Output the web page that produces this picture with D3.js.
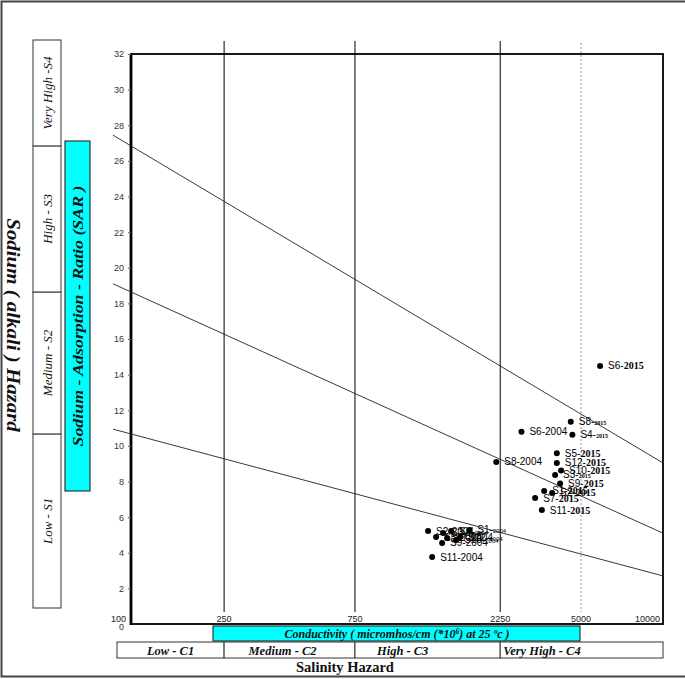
<!DOCTYPE html>
<html>
<head>
<meta charset="utf-8">
<script src="https://cdn.jsdelivr.net/npm/d3@7"></script>
<style>
  html, body { margin: 0; padding: 0; background: #fff; }
</style>
</head>
<body>
<div id="chart"></div>
<script>
///////////////////////////////////////////////////////////////////////////
// Datos
///////////////////////////////////////////////////////////////////////////
const samples = ["S1","S2","S3","S4","S5","S6","S7","S8","S9","S10","S11","S12"];

// conductividad (micromhos/cm) y SAR por año
const ec2004  = [1930, 1505, 1660, 1743, 1588, 2973, 1702, 2209, 1650, 1795, 1547, 1836];
const sar2004 = [5.28, 5.22, 5.11, 5.22, 4.88, 10.8, 4.83, 9.10, 4.55, 4.72, 3.76, 4.88];
const ec2015  = [3744, 4015, 4117, 4705, 4175, 6159, 3438, 4650, 4287, 4321, 3666, 4175];
const sar2015 = [7.47, 7.36, 8.37, 10.63, 9.58, 14.49, 7.07, 11.36, 7.89, 8.62, 6.40, 9.04];

// etiquetas de ejes
const ecTicks = [100, 250, 750, 2250, 5000, 10000];
const sarTicks = [0, 2, 4, 6, 8, 10, 12, 14, 16, 18, 20, 22, 24, 26, 28, 30, 32];

// líneas de separación S1/S2, S2/S3, S3/S4 (SAR en EC=100 y EC=10000)
const hazardLines = [
  { left: 10.67, right: 2.7 },
  { left: 18.64, right: 5.1 },
  { left: 26.84, right: 9.04 }
];

const sodiumClasses = ["Low - S1", "Medium - S2", "High - S3", "Very High -S4"];
const salinityClasses = ["Low - C1", "Medium - C2", "High - C3", "Very High - C4"];

// años con el número pequeño en la etiqueta
const tinyYear = ["S8-2015", "S4-2015", "S3-2015", "S1-2004", "S3-2004", "S4-2004", "S10-2004", "S12-2004"];

const points = [];
samples.forEach((s, i) => {
  points.push({ name: s, year: "2004", ec: ec2004[i], sar: sar2004[i] });
  points.push({ name: s, year: "2015", ec: ec2015[i], sar: sar2015[i] });
});

///////////////////////////////////////////////////////////////////////////
// SVG
///////////////////////////////////////////////////////////////////////////
const W = 685, H = 679;
const plot = { left: 131, right: 663, top: 54, bottom: 624 };
const serif = "'Liberation Serif', 'Times New Roman', serif";

const svg = d3.select("#chart").append("svg")
  .attr("width", W)
  .attr("height", H)
  .style("font-family", "'Liberation Sans', Arial, sans-serif");

// marco exterior
svg.append("path")
  .attr("d", `M${W},1.5 H1.5 V${H - 2.5} H${W}`)
  .attr("fill", "none")
  .attr("stroke", "#444")
  .attr("stroke-width", 2);

// escalas: eje x por tramos (como el diagrama USSL)
const x = d3.scaleLinear()
  .domain(ecTicks)
  .range([0, 0.175, 0.421, 0.694, 0.846, 1].map(f => plot.left + f * (plot.right - plot.left)));

const y = d3.scaleLinear()
  .domain([0, 32])
  .range([plot.bottom, plot.top]);

///////////////////////////////////////////////////////////////////////////
// Líneas verticales de clase
///////////////////////////////////////////////////////////////////////////
svg.selectAll(".vline")
  .data(ecTicks.slice(1, 4))
  .join("line")
  .attr("x1", d => x(d)).attr("x2", d => x(d))
  .attr("y1", 41).attr("y2", plot.bottom - 12)
  .attr("stroke", "#000")
  .attr("stroke-width", 1);

svg.append("line")
  .attr("x1", x(5000)).attr("x2", x(5000))
  .attr("y1", 43).attr("y2", plot.bottom - 12)
  .attr("stroke", "#777")
  .attr("stroke-width", 0.8)
  .attr("stroke-dasharray", "2,2");

// marco del gráfico
svg.append("rect")
  .attr("x", plot.left).attr("y", plot.top)
  .attr("width", plot.right - plot.left)
  .attr("height", plot.bottom - plot.top)
  .attr("fill", "none")
  .attr("stroke", "#000")
  .attr("stroke-width", 1.8);

svg.append("line")
  .attr("x1", plot.left).attr("x2", plot.left)
  .attr("y1", plot.top).attr("y2", plot.bottom + 1)
  .attr("stroke", "#000")
  .attr("stroke-width", 2.8);

// eje y
const yAxis = svg.append("g")
  .attr("transform", `translate(${plot.left},0)`)
  .call(d3.axisLeft(y).tickValues(sarTicks).tickSize(3).tickPadding(4));
yAxis.select(".domain").remove();
yAxis.selectAll("text")
  .attr("font-size", 9)
  .attr("fill", "#333")
  .attr("font-family", "'Liberation Sans', Arial, sans-serif");
yAxis.selectAll("line").attr("stroke", "#666");
yAxis.selectAll(".tick").filter(d => d === 0).select("text").attr("dy", "0.65em");
yAxis.selectAll(".tick").filter(d => d === 0).select("line").remove();

// etiquetas del eje x (dentro del gráfico)
svg.selectAll(".xlab")
  .data(ecTicks)
  .join("text")
  .attr("x", (d, i) => i === 0 ? plot.left - 5 : (i === ecTicks.length - 1 ? plot.right - 3 : x(d)))
  .attr("y", plot.bottom - 2)
  .attr("text-anchor", (d, i) => i === 0 || i === ecTicks.length - 1 ? "end" : "middle")
  .attr("font-size", 9)
  .attr("fill", "#222")
  .text(d => d);

///////////////////////////////////////////////////////////////////////////
// Líneas diagonales de riesgo de sodio
///////////////////////////////////////////////////////////////////////////
hazardLines.forEach(l => {
  const x0 = x(100), x1 = x(10000);
  const y0 = y(l.left), y1 = y(l.right);
  const slope = (y1 - y0) / (x1 - x0);
  const ext = 18; // se prolonga un poco a la izquierda del eje
  svg.append("line")
    .attr("x1", x0 - ext).attr("y1", y0 - slope * ext)
    .attr("x2", x1).attr("y2", y1)
    .attr("stroke", "#222")
    .attr("stroke-width", 0.9);
});

///////////////////////////////////////////////////////////////////////////
// Puntos y etiquetas
///////////////////////////////////////////////////////////////////////////
svg.selectAll(".pt")
  .data(points)
  .join("circle")
  .attr("cx", d => x(d.ec))
  .attr("cy", d => y(d.sar))
  .attr("r", 3)
  .attr("fill", "#000");

points.forEach(d => {
  const label = d.name + "-" + d.year;
  const small = tinyYear.includes(label);
  const t = svg.append("text")
    .attr("x", x(d.ec) + 8)
    .attr("y", y(d.sar) + 3.5)
    .attr("font-size", 10)
    .attr("fill", "#000");
  t.append("tspan").text(d.name + "-");
  t.append("tspan")
    .attr("font-family", d.year === "2015" ? serif : null)
    .attr("font-weight", d.year === "2015" ? "bold" : null)
    .attr("font-size", small ? 6 : 10)
    .text(d.year);
});

///////////////////////////////////////////////////////////////////////////
// Cajas de clase de sodio (izquierda)
///////////////////////////////////////////////////////////////////////////
const bounds = [608, y(hazardLines[0].left), y(hazardLines[1].left), y(hazardLines[2].left), 40];

// texto vertical, algo alargado en el sentido de lectura como en el original
function verticalText(cx, cy, angle, stretchBy) {
  return svg.append("text")
    .attr("transform", `translate(${cx},${cy}) rotate(${angle}) scale(${stretchBy},1)`)
    .attr("text-anchor", "middle")
    .attr("font-family", serif)
    .attr("font-style", "italic")
    .attr("fill", "#111");
}

sodiumClasses.forEach((c, i) => {
  const y0 = bounds[i + 1], y1 = bounds[i];
  svg.append("rect")
    .attr("x", 33).attr("y", y0)
    .attr("width", 28).attr("height", y1 - y0)
    .attr("fill", "#fff")
    .attr("stroke", "#333")
    .attr("stroke-width", 1);
  verticalText(52, (y0 + y1) / 2, -90, 1)
    .attr("font-size", 13)
    .text(c);
});

// caja SAR
svg.append("rect")
  .attr("x", 65).attr("y", 141)
  .attr("width", 25).attr("height", 350)
  .attr("fill", "#00FFFF")
  .attr("stroke", "#333")
  .attr("stroke-width", 1.2);

verticalText(83, 316, -90, 1.23)
  .attr("font-weight", "bold")
  .attr("font-size", 14.5)
  .text("Sodium - Adsorption - Ratio (SAR )");

verticalText(7, 325, 90, 1.16)
  .attr("font-weight", "bold")
  .attr("font-size", 18)
  .text("Sodium ( alkali ) Hazard");

///////////////////////////////////////////////////////////////////////////
// Cajas inferiores (conductividad y salinidad)
///////////////////////////////////////////////////////////////////////////
svg.append("rect")
  .attr("x", 213).attr("y", 626)
  .attr("width", 367).attr("height", 15)
  .attr("fill", "#00FFFF")
  .attr("stroke", "#333")
  .attr("stroke-width", 1.2);

const cond = svg.append("text")
  .attr("x", 397).attr("y", 637.5)
  .attr("text-anchor", "middle")
  .attr("font-family", serif)
  .attr("font-style", "italic")
  .attr("font-weight", "bold")
  .attr("font-size", 12)
  .attr("fill", "#111");
cond.append("tspan").text("Conductivity ( micromhos/cm (*10");
cond.append("tspan").attr("font-size", 7.5).attr("dy", -4).text("6");
cond.append("tspan").attr("dy", 4).text(") at 25 ºc )");

const salEdges = [117, x(250), x(750), x(2250), plot.right];
const salAlign = ["middle", "middle", "start", "start"];
salinityClasses.forEach((c, i) => {
  svg.append("rect")
    .attr("x", salEdges[i]).attr("y", 642)
    .attr("width", salEdges[i + 1] - salEdges[i]).attr("height", 16)
    .attr("fill", "#fff")
    .attr("stroke", "#333")
    .attr("stroke-width", 1);
  svg.append("text")
    .attr("x", salAlign[i] === "middle" ? (salEdges[i] + salEdges[i + 1]) / 2 - (i === 1 ? 7 : 0) : salEdges[i] + (i === 2 ? 22 : 3))
    .attr("y", 654.5)
    .attr("text-anchor", salAlign[i])
    .attr("font-family", serif)
    .attr("font-style", "italic")
    .attr("font-weight", "bold")
    .attr("font-size", 12.5)
    .attr("fill", "#111")
    .text(c);
});

svg.append("text")
  .attr("x", 345).attr("y", 672)
  .attr("text-anchor", "middle")
  .attr("font-family", serif)
  .attr("font-weight", "bold")
  .attr("font-size", 14.5)
  .attr("fill", "#111")
  .text("Salinity Hazard");
</script>
</body>
</html>
